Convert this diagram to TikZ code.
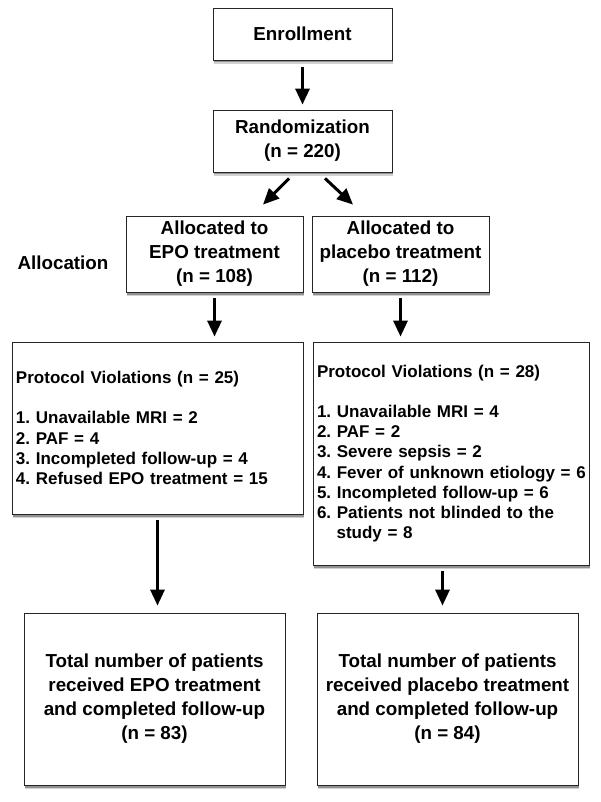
\documentclass[tikz,border=0pt]{standalone}
\usepackage{fontspec}
\setmainfont{Liberation Sans}
\usetikzlibrary{arrows.meta,shadows}

\tikzset{
  box/.style={draw=black!85, line width=0.8pt, fill=white, align=center, inner sep=0pt,
    drop shadow={shadow xshift=1.2pt, shadow yshift=-4pt, opacity=0.18, fill=black},
    drop shadow={shadow xshift=0.8pt, shadow yshift=-2.5pt, opacity=0.3, fill=black},
    font=\bfseries\fontsize{18.8}{24}\selectfont},
  listbox/.style={box, align=left, inner xsep=4pt, font=\bfseries\fontsize{17}{20.2}\selectfont},
  label/.style={font=\bfseries\fontsize{18.8}{24}\selectfont},
  arr/.style={line width=3pt, -{Triangle[width=14pt,length=16pt]}},
}

\begin{document}
\frenchspacing
\begin{tikzpicture}[x=1pt,y=-1pt]
		\useasboundingbox (0,0) rectangle (600,802);
		%
		\node[box, minimum width=179pt, minimum height=52pt] (enroll) at (302.5,34) {Enrollment};
		\node[box, minimum width=179pt, minimum height=62pt] (rand) at (302.5,141) {Randomization\\(n = 220)};
		\node[box, minimum width=177pt, minimum height=76pt] (epo) at (214.5,254) {Allocated to\\EPO treatment\\(n = 108)};
		\node[box, minimum width=177pt, minimum height=76pt] (plac) at (400.5,254) {Allocated to\\placebo treatment\\(n = 112)};
		\node[label] (alloc) at (63,263) {Allocation};
		%
		\node[listbox, text width=283pt, minimum height=172pt] (viol1) at (157.5,428)
		{Protocol Violations (n = 25)\\[20.2pt]
		 1. Unavailable MRI = 2\\
		 2. PAF = 4\\
		 3. Incompleted follow-up = 4\\
		 4. Refused EPO treatment = 15};
		\node[listbox, text width=268pt, minimum height=223pt] (viol2) at (451,453.5)
		{Protocol Violations (n = 28)\\[20.2pt]
		 1. Unavailable MRI = 4\\
		 2. PAF = 2\\
		 3. Severe sepsis = 2\\
		 \mbox{4. Fever of unknown etiology = 6}\\
		 5. Incompleted follow-up = 6\\
		 6. Patients not blinded to the\\
		 \hspace*{1.15em}study = 8};
		%
		\node[box, minimum width=261pt, minimum height=172pt] (tot1) at (154.5,699)
		{Total number of patients\\received EPO treatment\\and completed follow-up\\(n = 83)};
		\node[box, minimum width=261pt, minimum height=172pt] (tot2) at (447.5,699)
		{Total number of patients\\received placebo treatment\\and completed follow-up\\(n = 84)};
		%
		\draw[arr, shorten <=7pt, shorten >=5pt] (enroll) -- (rand);
		\draw[arr] ([xshift=-13.5pt,yshift=-6pt]rand.south) -- ([xshift=48.5pt,yshift=11pt]epo.north);
		\draw[arr] ([xshift=22.5pt,yshift=-6pt]rand.south) -- ([xshift=-47.5pt,yshift=11pt]plac.north);
		\draw[arr, shorten <=6pt, shorten >=5pt] (epo.south) -- (epo.south |- viol1.north);
		\draw[arr, shorten <=6pt, shorten >=5pt] (plac.south) -- (plac.south |- viol2.north);
		\draw[arr, shorten <=6pt, shorten >=7pt] (viol1.south) -- (viol1.south |- tot1.north);
		\draw[arr, shorten <=6pt, shorten >=7pt] ([xshift=-5pt]tot2.north |- viol2.south) -- ([xshift=-5pt]tot2.north);
\end{tikzpicture}
\end{document}
